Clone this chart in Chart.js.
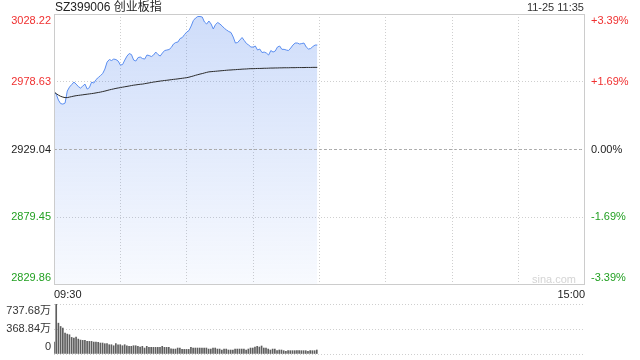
<!DOCTYPE html>
<html><head><meta charset="utf-8">
<script src="https://cdn.jsdelivr.net/npm/chart.js@4/dist/chart.umd.min.js"></script>
<style>
html,body{margin:0;padding:0;background:#fff;width:640px;height:360px;overflow:hidden;font-family:"Liberation Sans",Arial,"Noto Sans CJK SC",sans-serif;}
#title{position:absolute;left:55px;top:-1px;font-size:12px;color:#222;line-height:16px;white-space:nowrap;}
#time{position:absolute;right:56px;top:0px;font-size:11px;color:#333;line-height:14px;white-space:nowrap;}
#wm{position:absolute;left:532px;top:272px;font-size:11px;line-height:14px;color:#d4d4d4;}
#c1{position:absolute;left:0;top:0;}
#c2{position:absolute;left:0;top:290px;}
</style>
</head><body>
<canvas id="c1" width="640" height="300"></canvas>
<canvas id="c2" width="640" height="70"></canvas>
<div id="title">SZ399006 创业板指</div>
<div id="time">11-25 11:35</div>
<div id="wm">sina.com</div>
<script>
// ---- data ----
const prevClose = 2929.04;
const priceTicks = [2829.86, 2879.45, 2929.04, 2978.63, 3028.22];
const pctTicks = [-3.39, -1.69, 0, 1.69, 3.39];
const pctLabels = ['-3.39%', '-1.69%', '0.00%', '+1.69%', '+3.39%'];
const volTicks = [0, 368.84, 737.68];
const volLabels = ['0', '368.84万', '737.68万'];
const timeTickLabels = ['09:30', '15:00'];

const priceValues = [
  2971.06, 2969.60, 2965.20, 2962.64, 2962.27, 2963.00, 2971.80, 2974.73, 2976.56, 2978.39,
  2976.92, 2975.09, 2973.99, 2975.46, 2976.92, 2973.26, 2974.36, 2978.39, 2977.66, 2980.22,
  2981.69, 2983.15, 2984.62, 2987.92, 2993.05, 2994.88, 2994.15, 2995.24, 2994.88, 2993.78,
  2990.85, 2991.21, 2994.51, 2997.44, 2999.28, 2998.54, 2994.51, 2993.78, 2996.34, 2996.71,
  2995.61, 2995.24, 2998.18, 2997.81, 2997.08, 2998.18, 3000.37, 2998.54, 2997.44, 2999.64,
  3001.47, 3001.84, 3002.21, 3003.67, 3006.24, 3007.34, 3007.70, 3010.27, 3011.00, 3013.20,
  3015.03, 3016.13, 3019.43, 3023.46, 3025.29, 3026.39, 3026.39, 3026.02, 3022.36, 3020.89,
  3023.09, 3020.89, 3017.23, 3020.53, 3021.99, 3020.89, 3019.43, 3017.74, 3016.50, 3015.40,
  3014.66, 3011.37, 3006.97, 3007.34, 3009.17, 3011.00, 3008.80, 3006.60, 3005.50, 3004.04,
  3004.04, 3004.77, 3001.84, 3002.57, 3000.01, 3000.37, 2999.64, 2998.18, 3001.47, 3000.37,
  3001.11, 3004.04, 3004.77, 3002.35, 3002.35, 3001.84, 3001.47, 3003.31, 3005.50, 3006.97,
  3006.97, 3006.24, 3006.60, 3006.97, 3004.04, 3002.57, 3002.94, 3004.40, 3005.50, 3005.50
];
const avgValues = [
  2971.28, 2969.96, 2968.86, 2967.99, 2967.40, 2967.03, 2967.03, 2967.40, 2967.76, 2968.13,
  2968.42, 2968.64, 2968.86, 2969.08, 2969.30, 2969.52, 2969.74, 2969.96, 2970.18, 2970.48,
  2970.77, 2971.06, 2971.43, 2971.80, 2972.23, 2972.67, 2973.04, 2973.41, 2973.77, 2974.07,
  2974.36, 2974.65, 2974.95, 2975.24, 2975.53, 2975.83, 2976.12, 2976.34, 2976.56, 2976.78,
  2976.92, 2977.22, 2977.51, 2977.80, 2978.10, 2978.39, 2978.61, 2978.90, 2979.12, 2979.34,
  2979.56, 2979.71, 2979.93, 2980.15, 2980.37, 2980.52, 2980.74, 2980.96, 2981.18, 2981.40,
  2981.61, 2981.98, 2982.42, 2982.86, 2983.37, 2983.81, 2984.25, 2984.62, 2985.06, 2985.50,
  2985.86, 2986.01, 2986.16, 2986.30, 2986.45, 2986.60, 2986.74, 2986.89, 2987.04, 2987.18,
  2987.26, 2987.40, 2987.48, 2987.62, 2987.70, 2987.84, 2987.92, 2987.99, 2988.14, 2988.21,
  2988.21, 2988.28, 2988.36, 2988.36, 2988.43, 2988.50, 2988.50, 2988.58, 2988.65, 2988.65,
  2988.72, 2988.72, 2988.80, 2988.80, 2988.87, 2988.87, 2988.87, 2988.94, 2988.94, 2988.94,
  2989.02, 2989.02, 2989.02, 2989.02, 2989.09, 2989.09, 2989.09, 2989.16, 2989.16, 2989.16
];
const volumeValues = [
  176, 737.68, 455, 406, 382, 308, 294, 284, 245, 235,
  250, 220, 206, 201, 201, 186, 186, 186, 176, 176,
  171, 162, 162, 152, 152, 137, 137, 122, 152, 137,
  137, 122, 137, 122, 113, 113, 122, 122, 113, 103,
  113, 88, 113, 98, 98, 98, 98, 98, 98, 113,
  98, 98, 98, 78, 73, 73, 88, 88, 68, 68,
  68, 68, 98, 88, 88, 88, 88, 88, 88, 88,
  73, 73, 88, 88, 73, 73, 59, 73, 73, 59,
  59, 59, 73, 73, 73, 73, 73, 59, 73, 88,
  88, 103, 113, 103, 118, 88, 88, 73, 59, 73,
  73, 49, 59, 59, 49, 39, 49, 49, 49, 49,
  49, 49, 49, 49, 49, 39, 49, 49, 49, 59
];

// minute categories 09:30-11:30, 13:01-15:00
const timeLabels = [];
const pad = n => (n < 10 ? '0' : '') + n;
for (let m = 9 * 60 + 30; m <= 11 * 60 + 30; m++) timeLabels.push(pad(Math.floor(m / 60)) + ':' + pad(m % 60));
for (let m = 13 * 60 + 1; m <= 15 * 60; m++) timeLabels.push(pad(Math.floor(m / 60)) + ':' + pad(m % 60));
const lastIdx = timeLabels.length - 1;

// ---- styling ----
const FONT = '"Liberation Sans", Arial, "Noto Sans CJK SC", sans-serif';
Chart.defaults.font.family = FONT;
Chart.defaults.font.size = 11;
const RED = '#f03030', GREEN = '#22a022', DARK = '#222';
const GRID = '#cfcfcf';

const boxPlugin = {
  id: 'box',
  afterDatasetsDraw(chart) {
    const a = chart.chartArea, c = chart.ctx;
    c.save();
    c.strokeStyle = '#cccccc';
    c.lineWidth = 1;
    c.strokeRect(Math.round(a.left) + 0.5, Math.round(a.top) + 0.5,
      Math.round(a.right) - Math.round(a.left) - 1, Math.round(a.bottom) - Math.round(a.top) - 1);
    c.restore();
  }
};

const tickColor = (v, base) => v > base + 1e-9 ? RED : (v < base - 1e-9 ? GREEN : DARK);

new Chart(document.getElementById('c1'), {
  type: 'line',
  data: {
    labels: timeLabels,
    datasets: [
      {
        data: avgValues, borderColor: '#2b2b2b', borderWidth: 1, pointRadius: 0, fill: false, order: 0
      },
      {
        data: timeLabels.map(() => prevClose), borderColor: '#a8a8a8', borderDash: [3, 2],
        borderWidth: 1, pointRadius: 0, fill: false, order: 1
      },
      {
        data: priceValues, borderColor: '#5b8ef0', borderWidth: 1, pointRadius: 0, tension: 0,
        fill: 'start', order: 2,
        backgroundColor: (c) => {
          const a = c.chart.chartArea;
          if (!a) return 'rgba(80,130,235,0.2)';
          const g = c.chart.ctx.createLinearGradient(0, a.top, 0, a.bottom);
          g.addColorStop(0, 'rgba(75,128,236,0.27)');
          g.addColorStop(1, 'rgba(75,128,236,0.04)');
          return g;
        }
      }
    ]
  },
  options: {
    responsive: false, animation: false, devicePixelRatio: 1,
    layout: { padding: { top: 14, left: 0, right: 0, bottom: 0 } },
    plugins: { legend: { display: false }, tooltip: { enabled: false } },
    scales: {
      x: {
        type: 'category', offset: false,
        afterBuildTicks: s => { s.ticks = [0, 30, 60, 90, 120, 150, 180, 210, 240].map(v => ({ value: v })); },
        afterFit: s => { s.height = 15; s.paddingLeft = 0; s.paddingRight = 0; },
        ticks: {
          autoSkip: false, maxRotation: 0, minRotation: 0, align: 'inner', padding: 3, color: DARK,
          callback: (v) => v === 0 ? timeTickLabels[0] : (v === lastIdx ? timeTickLabels[1] : '')
        },
        grid: {
          drawTicks: false,
          color: c => (c.tick && (c.tick.value === 0 || c.tick.value === lastIdx)) ? 'rgba(0,0,0,0)' : GRID
        },
        border: { display: false, dash: [1, 2] }
      },
      y: {
        position: 'left', min: priceTicks[0], max: priceTicks[priceTicks.length - 1],
        afterBuildTicks: s => { s.ticks = priceTicks.map(v => ({ value: v })); },
        afterFit: s => { s.width = 54; s.paddingTop = 0; s.paddingBottom = 0; },
        ticks: {
          padding: 3, autoSkip: false,
          color: c => tickColor(c.tick.value, prevClose),
          callback: (v, i) => {
            const t = v.toFixed(2);
            if (i === priceTicks.length - 1) return ['', t];
            if (i === 0) return [t, ''];
            return t;
          }
        },
        grid: {
          drawTicks: false,
          color: c => {
            const v = c.tick ? c.tick.value : null;
            if (v === priceTicks[0] || v === priceTicks[priceTicks.length - 1] || v === prevClose) return 'rgba(0,0,0,0)';
            return GRID;
          }
        },
        border: { display: false, dash: [1, 2] }
      },
      y2: {
        position: 'right', min: -3.39, max: 3.39,
        afterBuildTicks: s => { s.ticks = pctTicks.map(v => ({ value: v })); },
        afterFit: s => { s.width = 55; s.paddingTop = 0; s.paddingBottom = 0; },
        ticks: {
          padding: 6, autoSkip: false,
          color: c => tickColor(c.tick.value, 0),
          callback: (v, i) => {
            const t = pctLabels[i];
            if (i === pctLabels.length - 1) return ['', t];
            if (i === 0) return [t, ''];
            return t;
          }
        },
        grid: { display: false, drawTicks: false },
        border: { display: false }
      }
    }
  },
  plugins: [boxPlugin]
});

new Chart(document.getElementById('c2'), {
  type: 'bar',
  data: {
    labels: timeLabels,
    datasets: [{ data: volumeValues, backgroundColor: '#5e5e5e', barThickness: 1, borderWidth: 0 }]
  },
  options: {
    responsive: false, animation: false, devicePixelRatio: 1,
    layout: { padding: { top: 14, left: 0, right: 56, bottom: 6 } },
    plugins: { legend: { display: false }, tooltip: { enabled: false } },
    scales: {
      x: { type: 'category', offset: false, display: false, grid: { display: false } },
      y: {
        min: 0, max: volTicks[volTicks.length - 1],
        afterBuildTicks: s => { s.ticks = volTicks.map(v => ({ value: v })); },
        afterFit: s => { s.width = 54; s.paddingTop = 0; s.paddingBottom = 0; },
        ticks: {
          padding: 3, color: '#333', autoSkip: false,
          callback: (v, i) => {
            const t = volLabels[i];
            if (i === volLabels.length - 1) return ['', t];
            if (i === 0) return [t, ''];
            return t;
          }
        },
        grid: { drawTicks: false, color: GRID },
        border: { display: false, dash: [1, 2] }
      }
    }
  }
});
</script>
</body></html>
